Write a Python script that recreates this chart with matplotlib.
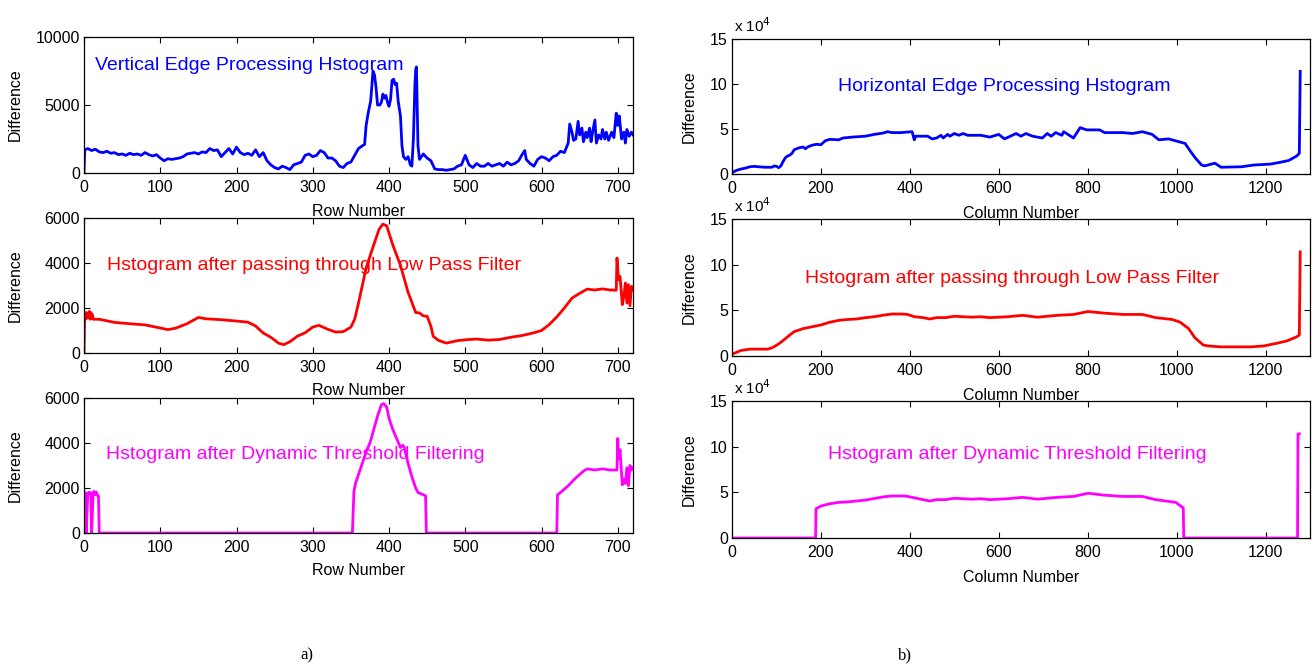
import matplotlib
matplotlib.use("Agg")
import matplotlib.pyplot as plt

plt.rcParams['font.family'] = ['Liberation Sans', 'DejaVu Sans']

# ---- a) row histograms (720 rows) ----
row_x = [0, 1, 5, 10, 15, 20, 25, 30, 35, 40, 45, 50, 55, 60, 65, 70, 75, 80, 85, 90, 95,
         100, 105, 110, 115, 120, 125, 130, 135, 140, 145, 150, 155, 160, 165, 170, 175,
         180, 185, 190, 195, 200, 205, 210, 215, 220, 225, 230, 235, 240, 245, 250, 255,
         260, 265, 270, 275, 280, 285, 290, 295, 300, 305, 310, 315, 320, 325, 330, 335,
         340, 345, 350, 355, 360, 365, 368, 370, 373, 376, 379, 381, 383, 385, 388, 390,
         392, 394, 396, 398, 400, 402, 404, 406, 408, 410, 412, 415, 417, 419, 422, 425,
         428, 430, 432, 434, 435, 436, 438, 440, 445, 450, 455, 460, 465, 470, 475, 480,
         485, 490, 495, 500, 505, 510, 515, 520, 525, 530, 535, 540, 545, 550, 555, 560,
         565, 570, 575, 578, 580, 585, 590, 595, 600, 605, 610, 615, 620, 625, 630, 635,
         637, 640, 642, 645, 648, 650, 653, 655, 658, 660, 663, 665, 667, 670, 672, 675,
         678, 680, 683, 685, 688, 692, 695, 698, 700, 702, 705, 708, 710, 712, 715, 718, 720]
row_edge = [100, 1700, 1800, 1650, 1750, 1550, 1500, 1600, 1450, 1500, 1350, 1400, 1300, 1450,
            1350, 1400, 1300, 1500, 1350, 1250, 1350, 1100, 900, 1050, 1000, 1050, 1100, 1200,
            1400, 1450, 1500, 1400, 1550, 1500, 1800, 1650, 1700, 1200, 1500, 1800, 1400, 1900,
            1500, 1350, 1450, 1300, 1700, 1200, 1500, 900, 600, 400, 300, 500, 400, 250, 600,
            700, 800, 1300, 1400, 1200, 1300, 1650, 1500, 1100, 1100, 900, 500, 400, 700, 800,
            1300, 1800, 2000, 2100, 3500, 4500, 5300, 7500, 7200, 6300, 5000, 5000, 5200, 5800,
            5500, 5700, 5200, 4900, 5400, 6800, 6900, 6500, 6600, 5300, 4200, 2000, 1200, 1000,
            1200, 600, 500, 2500, 6500, 7600, 7800, 2000, 1000, 1400, 1100, 900, 300, 250, 250,
            200, 250, 300, 500, 600, 1300, 600, 400, 700, 500, 500, 700, 500, 600, 700, 500,
            800, 600, 700, 900, 1400, 1650, 1000, 700, 500, 1000, 1200, 1100, 900, 1200, 1300,
            1600, 1500, 2200, 3600, 3000, 2400, 2500, 3800, 2800, 3300, 2300, 3000, 2600, 3300,
            2300, 3000, 3900, 2200, 2800, 2500, 3200, 2500, 3000, 2400, 3000, 2600, 4400, 3500,
            4200, 2500, 3000, 2200, 3200, 2700, 3000, 2800]

lp_x = [0, 1, 2, 3, 4, 5, 6, 7, 8, 9, 10, 11, 12, 20, 40, 60, 80, 100, 110, 120, 135, 150,
        160, 180, 200, 215, 225, 235, 245, 255, 262, 270, 280, 290, 300, 308, 320, 330, 340,
        350, 355, 360, 365, 370, 380, 387, 392, 397, 405, 415, 425, 435, 440, 445, 450, 455,
        458, 465, 475, 490, 505, 515, 530, 545, 560, 575, 590, 600, 610, 620, 630, 640, 650,
        660, 670, 680, 690, 698, 699, 701, 703, 706, 708, 710, 712, 714, 716, 718, 720]
row_lowpass = [0, 1750, 1500, 1800, 1550, 1750, 1600, 1850, 1500, 1800, 1550, 1700, 1500, 1500,
               1360, 1300, 1250, 1110, 1040, 1100, 1300, 1580, 1520, 1480, 1420, 1370, 1200,
               890, 700, 440, 370, 500, 750, 900, 1150, 1230, 1050, 930, 950, 1150, 1500, 2220,
               3000, 3780, 4810, 5500, 5730, 5650, 4800, 3900, 2700, 1800, 1780, 1650, 1630,
               1185, 740, 560, 440, 550, 600, 620, 570, 600, 700, 780, 900, 1000, 1260, 1600,
               2000, 2440, 2650, 2840, 2800, 2850, 2800, 2790, 4220, 3260, 3400, 2150, 2520,
               3110, 2220, 3040, 2100, 2960, 2810]

dt_x = [0, 1, 2, 3, 5, 6, 7, 8, 9, 10, 12, 13, 14, 15, 16, 17, 18, 19, 20, 352, 354, 356,
        360, 365, 370, 375, 380, 385, 390, 393, 397, 400, 405, 410, 415, 418, 420, 425, 430,
        435, 438, 445, 448, 449, 620, 621, 625, 635, 645, 655, 660, 670, 680, 690, 699, 700,
        701, 703, 706, 708, 710, 712, 714, 716, 718, 720]
row_threshold = [0, 1800, 1780, 0, 1780, 1800, 1750, 1800, 1780, 0, 1800, 1850, 1780, 1700,
                 1820, 1700, 1650, 1650, 0, 0, 1840, 2200, 2600, 3100, 3600, 4000, 4600, 5200,
                 5700, 5750, 5600, 5100, 4600, 4200, 3800, 3900, 3800, 3100, 2500, 2000, 1800,
                 1700, 1650, 0, 0, 1700, 1800, 2100, 2450, 2750, 2850, 2800, 2850, 2800, 2800,
                 4200, 3300, 3700, 2140, 2400, 2200, 2900, 2100, 3000, 2800, 2900]

# ---- b) column histograms (1280 columns), values in units of 1e4 ----
col_x = [0, 10, 20, 30, 40, 50, 60, 75, 90, 95, 100, 105, 110, 115, 120, 125, 130, 135, 140,
         150, 160, 165, 170, 180, 190, 200, 210, 220, 240, 250, 270, 300, 320, 340, 350, 360,
         380, 405, 410, 413, 440, 450, 460, 470, 475, 485, 490, 500, 510, 520, 530, 560, 580,
         600, 613, 639, 650, 661, 676, 698, 709, 718, 728, 742, 746, 768, 783, 798, 827, 838,
         879, 901, 923, 945, 960, 982, 1004, 1019, 1030, 1041, 1056, 1063, 1086, 1100, 1145,
         1174, 1211, 1233, 1252, 1270, 1276, 1278]
col_edge = [0.15, 0.4, 0.55, 0.65, 0.8, 0.85, 0.8, 0.75, 0.75, 0.9, 0.85, 0.7, 0.9, 1.4, 1.8,
            2.0, 2.1, 2.3, 2.7, 2.9, 3.0, 2.8, 3.0, 3.2, 3.3, 3.25, 3.7, 3.85, 3.8, 4.0, 4.1,
            4.2, 4.4, 4.55, 4.7, 4.6, 4.6, 4.7, 3.8, 4.2, 4.2, 3.9, 4.0, 4.3, 4.0, 4.4, 4.2,
            4.5, 4.3, 4.5, 4.3, 4.3, 4.1, 4.4, 3.9, 4.5, 4.2, 4.5, 4.2, 4.0, 4.5, 4.2, 4.6,
            4.3, 4.7, 4.0, 5.15, 4.9, 4.9, 4.6, 4.6, 4.5, 4.7, 4.4, 3.8, 3.9, 3.6, 3.4, 2.6,
            1.85, 1.0, 0.9, 1.2, 0.75, 0.8, 1.0, 1.1, 1.3, 1.5, 2.0, 2.3, 11.4]

clp_x = [0, 10, 20, 40, 80, 90, 100, 110, 120, 130, 140, 160, 180, 200, 220, 240, 260, 280,
         300, 320, 340, 360, 380, 395, 410, 430, 445, 460, 480, 500, 520, 540, 560, 580, 620,
         654, 687, 731, 768, 801, 835, 879, 923, 953, 990, 1008, 1027, 1041, 1060, 1071, 1100,
         1167, 1196, 1226, 1248, 1270, 1276, 1278]
col_lowpass = [0.2, 0.4, 0.6, 0.75, 0.75, 0.9, 1.17, 1.5, 1.9, 2.3, 2.67, 3.0, 3.2, 3.4, 3.7,
               3.9, 4.0, 4.05, 4.2, 4.3, 4.47, 4.6, 4.6, 4.55, 4.3, 4.2, 4.05, 4.2, 4.2, 4.35,
               4.3, 4.25, 4.3, 4.2, 4.3, 4.45, 4.25, 4.45, 4.55, 4.87, 4.7, 4.55, 4.55, 4.2,
               4.0, 3.7, 3.0, 2.0, 1.2, 1.1, 1.0, 1.0, 1.1, 1.4, 1.65, 2.1, 2.3, 11.4]

cdt_x = [0, 188, 189, 200, 220, 240, 260, 300, 340, 360, 390, 420, 445, 460, 480, 500, 520,
         540, 560, 580, 620, 654, 687, 731, 768, 801, 835, 879, 923, 953, 998, 1012, 1015,
         1016, 1272, 1273, 1276]
col_threshold = [0, 0, 3.2, 3.5, 3.75, 3.9, 3.95, 4.15, 4.5, 4.6, 4.6, 4.3, 4.05, 4.2, 4.2,
                 4.35, 4.3, 4.25, 4.3, 4.2, 4.3, 4.45, 4.25, 4.45, 4.55, 4.9, 4.7, 4.55, 4.55,
                 4.2, 3.9, 3.4, 3.3, 0, 0, 11.4, 11.4]

texts_a = ['Vertical Edge Processing Hstogram',
           'Hstogram after passing through Low Pass Filter',
           'Hstogram after Dynamic Threshold Filtering']
texts_b = ['Horizontal Edge Processing Hstogram',
           'Hstogram after passing through Low Pass Filter',
           'Hstogram after Dynamic Threshold Filtering']
colors = ['#0000ff', '#ff0000', '#ff00ff']

W, H = 1312, 671
fig = plt.figure(figsize=(W / 100, H / 100), dpi=100)

def box(l, t, r, b):
    return [l / W, 1 - b / H, (r - l) / W, (b - t) / H]

left_boxes = [box(84, 37, 633, 173), box(84, 218, 633, 353), box(84, 398, 633, 533)]
right_boxes = [box(732, 39, 1310, 174), box(732, 219, 1310, 356), box(732, 401, 1310, 538)]

def style(ax, ylab_x):
    ax.tick_params(direction='in', top=True, right=True, length=4, width=0.8,
                   labelsize=11.5, colors='black')
    ax.tick_params(axis='x', pad=5)
    ax.tick_params(axis='y', pad=3)
    for s in ax.spines.values():
        s.set_linewidth(0.9)
    ax.set_ylabel('Difference', fontsize=11.5)
    ax.yaxis.set_label_coords(ylab_x, 0.5)

left_data = [(row_x, row_edge, [0, 5000, 10000], (0, 10000), (14, 7900)),
             (lp_x, row_lowpass, [0, 2000, 4000, 6000], (0, 6000), (30, 3870)),
             (dt_x, row_threshold, [0, 2000, 4000, 6000], (0, 6000), (29, 3470))]

for i, (xs, ys, yt, yl, tp) in enumerate(left_data):
    ax = fig.add_axes(left_boxes[i])
    ax.plot(xs, ys, color=colors[i], lw=2)
    ax.set_xlim(0, 720)
    ax.set_ylim(*yl)
    ax.set_xticks(range(0, 701, 100))
    ax.set_yticks(yt)
    style(ax, -0.111)
    ax.set_xlabel('Row Number', fontsize=11.5)
    ax.xaxis.set_label_coords(0.5, -0.225)
    ax.text(tp[0], tp[1], texts_a[i], color=colors[i], fontsize=14, va='center')

right_data = [(col_x, col_edge, (238, 9.67)),
              (clp_x, col_lowpass, (164, 8.54)),
              (cdt_x, col_threshold, (216, 9.09))]

for i, (xs, ys, tp) in enumerate(right_data):
    ax = fig.add_axes(right_boxes[i])
    ax.plot(xs, [v * 1e4 for v in ys], color=colors[i], lw=2)
    ax.set_xlim(0, 1300)
    ax.set_ylim(0, 15e4)
    ax.set_xticks(range(0, 1201, 200))
    ax.set_yticks([0, 5e4, 10e4, 15e4])
    ax.set_yticklabels(['0', '5', '10', '15'])
    style(ax, -0.0605)
    ax.set_xlabel('Column Number', fontsize=11.5)
    ax.xaxis.set_label_coords(0.5, -0.235)
    ax.text(0.003, 1.03, r'x 10$^4$', transform=ax.transAxes, fontsize=11,
            ha='left', va='bottom')
    ax.text(tp[0], tp[1] * 1e4, texts_b[i], color=colors[i], fontsize=14, va='center')

fig.text(307 / W, 1 - 655 / H, 'a)', family=['Liberation Serif', 'DejaVu Serif'],
         fontsize=12, ha='center', va='center')
fig.text(905 / W, 1 - 655 / H, 'b)', family=['Liberation Serif', 'DejaVu Serif'],
         fontsize=12, ha='center', va='center')

fig.savefig('out.png', dpi=100)
